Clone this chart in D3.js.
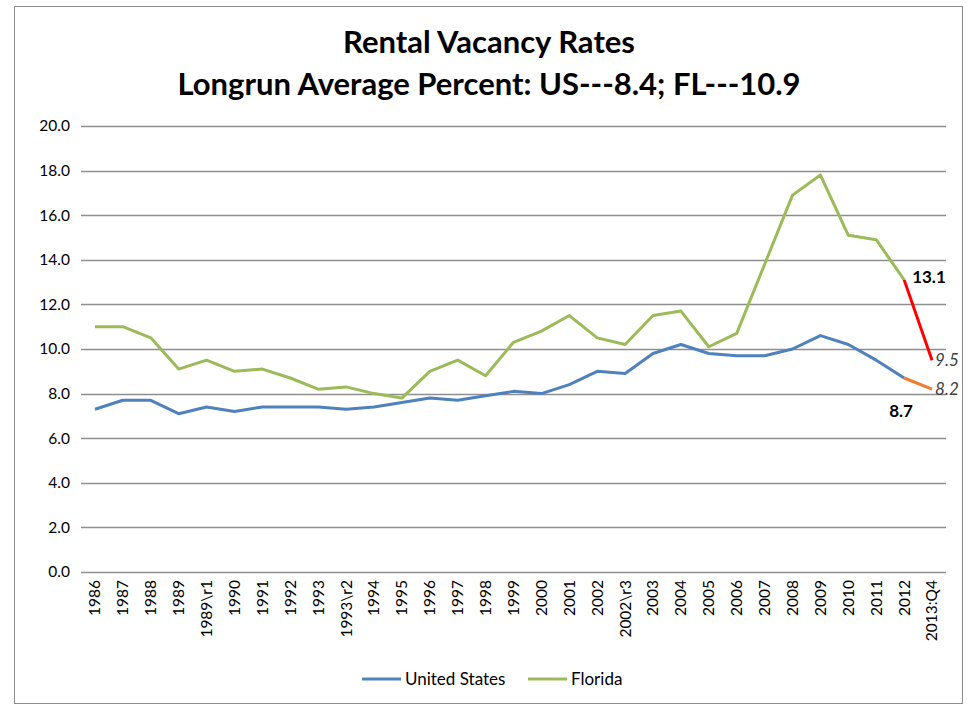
<!DOCTYPE html>
<html>
<head>
<meta charset="utf-8">
<script src="https://cdn.jsdelivr.net/npm/d3@7"></script>
<style>
  body { margin: 0; background: #fff; }
  svg { display: block; font-family: Lato, "Open Sans", sans-serif; }
</style>
</head>
<body>
<div id="chart"></div>
<script>
// categories along the x axis
const years = ["1986", "1987", "1988", "1989", "1989\\r1", "1990", "1991", "1992", "1993", "1993\\r2",
  "1994", "1995", "1996", "1997", "1998", "1999", "2000", "2001", "2002", "2002\\r3",
  "2003", "2004", "2005", "2006", "2007", "2008", "2009", "2010", "2011", "2012", "2013:Q4"];

// rental vacancy rate, percent
const usRate = [7.3, 7.7, 7.7, 7.1, 7.4, 7.2, 7.4, 7.4, 7.4, 7.3,
  7.4, 7.6, 7.8, 7.7, 7.9, 8.1, 8.0, 8.4, 9.0, 8.9,
  9.8, 10.2, 9.8, 9.7, 9.7, 10.0, 10.6, 10.2, 9.5, 8.7, 8.2];
const flRate = [11.0, 11.0, 10.5, 9.1, 9.5, 9.0, 9.1, 8.7, 8.2, 8.3,
  8.0, 7.8, 9.0, 9.5, 8.8, 10.3, 10.8, 11.5, 10.5, 10.2,
  11.5, 11.7, 10.1, 10.7, 13.8, 16.9, 17.8, 15.1, 14.9, 13.1, 9.5];

const yTicks = [0, 2, 4, 6, 8, 10, 12, 14, 16, 18, 20];

const width = 967, height = 705;
const margin = { top: 126, right: 21, bottom: 133, left: 81 };

const svg = d3.select("#chart").append("svg")
  .attr("width", width)
  .attr("height", height);

// outer frame
svg.append("rect")
  .attr("x", 14.5).attr("y", 6.5)
  .attr("width", 948).attr("height", 697)
  .attr("fill", "#fff")
  .attr("stroke", "#8c8c8c");

const x = d3.scaleBand()
  .domain(years)
  .range([margin.left, width - margin.right]);

const y = d3.scaleLinear()
  .domain([0, 20])
  .range([height - margin.bottom, margin.top]);

const cx = d => x(d) + x.bandwidth() / 2;

// horizontal grid
svg.append("g")
  .selectAll("line")
  .data(yTicks)
  .enter()
  .append("line")
  .attr("x1", margin.left)
  .attr("x2", width - margin.right)
  .attr("y1", d => Math.round(y(d)) + 0.5)
  .attr("y2", d => Math.round(y(d)) + 0.5)
  .attr("stroke", "#8e8e8e")
  .attr("stroke-width", 1.3);

// y axis labels
const yAxis = svg.append("g")
  .attr("transform", "translate(" + (margin.left - 8) + ",0)")
  .call(d3.axisLeft(y).tickValues(yTicks).tickFormat(d3.format(".1f")).tickSize(0));
yAxis.select(".domain").remove();
yAxis.selectAll("text")
  .attr("font-family", "Lato, sans-serif")
  .attr("font-size", 15.5)
  .attr("fill", "#000");

// x axis labels, rotated
const xAxis = svg.append("g")
  .attr("transform", "translate(0," + (height - margin.bottom + 8) + ")")
  .call(d3.axisBottom(x).tickSize(0));
xAxis.select(".domain").remove();
xAxis.selectAll("text")
  .attr("font-family", "Lato, sans-serif")
  .attr("font-size", 15.5)
  .attr("fill", "#000")
  .attr("transform", "rotate(-90)")
  .attr("x", 0)
  .attr("y", 0)
  .attr("dy", "0.35em")
  .style("text-anchor", "end");

const line = d3.line()
  .x(d => cx(d.year))
  .y(d => y(d.value));

const usPts = years.map((yr, i) => ({ year: yr, value: usRate[i] }));
const flPts = years.map((yr, i) => ({ year: yr, value: flRate[i] }));
const last = years.length - 1;

function drawLine(pts, color) {
  svg.append("path")
    .datum(pts)
    .attr("d", line)
    .attr("fill", "none")
    .attr("stroke", color)
    .attr("stroke-width", 3)
    .attr("stroke-linejoin", "round");
}

drawLine(usPts.slice(0, last), "#4f81bd");
drawLine(flPts.slice(0, last), "#9bbb59");
// the latest quarter is highlighted
drawLine(usPts.slice(last - 1), "#f07d2e");
drawLine(flPts.slice(last - 1), "#ff0000");

// point labels
function label(px, py, txt, bold, italic, color) {
  svg.append("text")
    .attr("x", px).attr("y", py)
    .attr("font-family", "Lato, sans-serif")
    .attr("font-size", 17)
    .attr("font-weight", bold ? "bold" : "normal")
    .attr("font-style", italic ? "italic" : "normal")
    .attr("fill", color)
    .text(txt);
}
label(cx(years[last - 1]) + 8, y(flRate[last - 1]) + 3, flRate[last - 1].toFixed(1), true, false, "#000");
label(cx(years[last - 1]) - 15, y(usRate[last - 1]) + 39, usRate[last - 1].toFixed(1), true, false, "#000");
label(cx(years[last]) + 3, y(flRate[last]) + 6, flRate[last].toFixed(1), false, true, "#404040");
label(cx(years[last]) + 3, y(usRate[last]) + 6, usRate[last].toFixed(1), false, true, "#404040");

// title
const title = svg.append("text")
  .attr("text-anchor", "middle")
  .attr("font-family", "Lato, sans-serif")
  .attr("font-weight", "bold")
  .attr("font-size", 31)
  .attr("fill", "#000");
title.append("tspan").attr("x", 489).attr("y", 53).text("Rental Vacancy Rates");
title.append("tspan").attr("x", 489).attr("y", 95).text("Longrun Average Percent: US---8.4; FL---10.9");

// legend
const legend = [
  { name: "United States", color: "#4f81bd", x: 362 },
  { name: "Florida", color: "#9bbb59", x: 528 }
];
const lg = svg.append("g");
lg.selectAll("line")
  .data(legend)
  .enter()
  .append("line")
  .attr("x1", d => d.x).attr("x2", d => d.x + 39)
  .attr("y1", 679).attr("y2", 679)
  .attr("stroke", d => d.color)
  .attr("stroke-width", 3);
lg.selectAll("text")
  .data(legend)
  .enter()
  .append("text")
  .attr("x", d => d.x + 43)
  .attr("y", 685)
  .attr("font-family", "Lato, sans-serif")
  .attr("font-size", 17)
  .attr("fill", "#000")
  .text(d => d.name);
</script>
</body>
</html>
